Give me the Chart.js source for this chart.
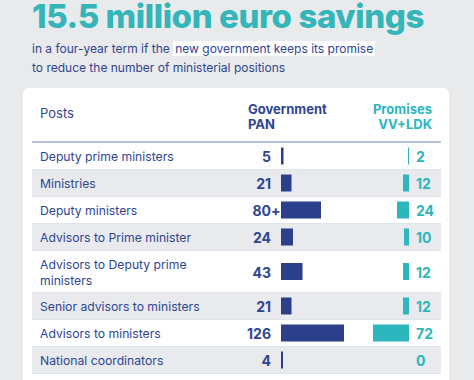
<!DOCTYPE html>
<html>
<head>
<meta charset="utf-8">
<script src="https://cdn.jsdelivr.net/npm/chart.js@4"></script>
<style>
  body { margin: 0; width: 474px; height: 380px; overflow: hidden; background: #e9eaec; font-family: Inter, "Noto Sans", sans-serif; color: #2e4592; position: relative; }
  #title { position: absolute; left: 32px; top: 0px; font-size: 33px; line-height: 33px; font-weight: 800; color: #33b5b9; letter-spacing: -0.4px; white-space: nowrap; }
  #sub { position: absolute; left: 32px; top: 39px; font-size: 12px; line-height: 19px; white-space: nowrap; }
  #sub span { background: #fff; padding: 0 2px; }
  #card { position: absolute; left: 23px; top: 88px; width: 426px; height: 320px; background: #fff; border-radius: 6px; }
  #table { position: absolute; left: 32px; top: 88px; width: 409px; }
  .head { position: absolute; left: 0; top: 0; width: 409px; height: 53px; border-bottom: 2px solid #b4c0dd; font-size: 13px; line-height: 15px; }
  .row { position: absolute; left: 0; width: 409px; border-bottom: 1px solid #dfe3ea; font-size: 12.2px; }
  .row.alt { background: #e9eaee; }
  .lab { position: absolute; left: 8px; top: 50%; transform: translateY(-50%); width: 178px; line-height: 16px; margin-top: 1px; }
  .gv { position: absolute; right: 170px; top: 50%; transform: translateY(-50%); font-weight: 700; font-size: 14px; }
  .gv i { position: absolute; left: 100%; font-style: normal; }
  .pv { position: absolute; left: 384px; top: 50%; transform: translateY(-50%); font-weight: 700; font-size: 14px; color: #2cb6be; }
  .row canvas { position: absolute; left: 249px; top: 0; }
</style>
</head>
<body>
<div id="title">15.5 million euro savings</div>
<div id="sub">in a four-year term if the <span>new government keeps its promise</span><br>to reduce the number of ministerial positions</div>
<div id="card"></div>
<div id="table">
  <div class="head">
    <div style="position:absolute;left:8px;top:18px;">Posts</div>
    <div style="position:absolute;left:216px;top:14px;font-weight:700;">Government<br>PAN</div>
    <div style="position:absolute;right:9px;top:14px;font-weight:700;color:#2cb6be;text-align:right;">Promises<br>VV+LDK</div>
  </div>
</div>
<script>
const posts = ['Deputy prime ministers', 'Ministries', 'Deputy ministers', 'Advisors to Prime minister',
  'Advisors to Deputy prime ministers', 'Senior advisors to ministers', 'Advisors to ministers', 'National coordinators'];
const government = [5, 21, 80, 24, 43, 21, 126, 4];
const governmentSuffix = ['', '', '+', '', '', '', '', ''];
const promises = [2, 12, 24, 10, 12, 12, 72, 0];
const scaleMax = 256; // same scale for both columns

const rowHeights = [27, 27, 27, 27, 42, 27, 27, 27];
const navy = '#2b3f8a';
const teal = '#2cb6be';

const table = document.getElementById('table');
let rowTop = 55;
posts.forEach((post, i) => {
  const h = rowHeights[i];
  const row = document.createElement('div');
  row.className = 'row' + (i % 2 ? ' alt' : '');
  row.style.top = rowTop + 'px';
  row.style.height = (h - 1) + 'px';
  row.innerHTML = '<div class="lab">' + post + '</div>' +
    '<div class="gv">' + government[i] + (governmentSuffix[i] ? '<i>' + governmentSuffix[i] + '</i>' : '') + '</div>' +
    '<div class="pv">' + promises[i] + '</div>';
  const canvas = document.createElement('canvas');
  canvas.width = 128;
  canvas.height = h - 1;
  row.appendChild(canvas);
  table.appendChild(row);
  rowTop += h;

  new Chart(canvas.getContext('2d'), {
    type: 'bar',
    data: {
      labels: [post],
      datasets: [
        { data: [government[i]], backgroundColor: navy, xAxisID: 'x', barThickness: 17, grouped: false, inflateAmount: 0, borderWidth: 0 },
        { data: [promises[i]], backgroundColor: teal, xAxisID: 'x2', barThickness: 17, grouped: false, inflateAmount: 0, borderWidth: 0 }
      ]
    },
    options: {
      indexAxis: 'y',
      responsive: false,
      animation: false,
      layout: { padding: 0 },
      plugins: { legend: { display: false }, tooltip: { enabled: false } },
      scales: {
        x: { display: false, min: 0, max: scaleMax },
        x2: { display: false, min: 0, max: scaleMax, reverse: true },
        y: { display: false }
      }
    }
  });
});
</script>
</body>
</html>
